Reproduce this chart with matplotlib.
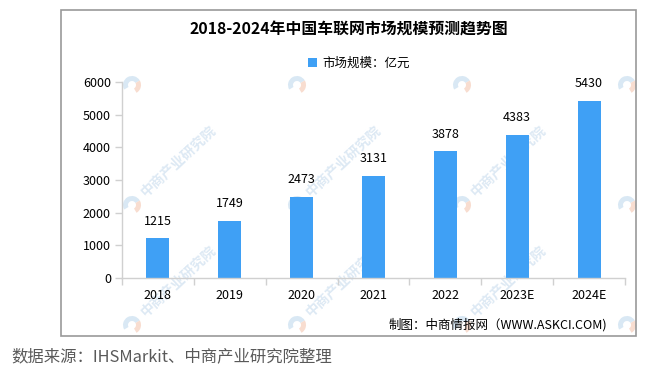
import matplotlib
matplotlib.use('Agg')
import matplotlib.pyplot as plt
from matplotlib.patches import Rectangle, Wedge, Patch
import numpy as np

plt.rcParams['font.family'] = ['Noto Sans CJK SC', 'DejaVu Sans']

# ── 数据 ──
years = ['2018', '2019', '2020', '2021', '2022', '2023E', '2024E']
market_size = [1215, 1749, 2473, 3131, 3878, 4383, 5430]
y_ticks = [0, 1000, 2000, 3000, 4000, 5000, 6000]

title = '2018-2024年中国车联网市场规模预测趋势图'
legend_label = '市场规模：亿元'
credit = '制图：中商情报网（WWW.ASKCI.COM)'
source = '数据来源：IHSMarkit、中商产业研究院整理'
watermark = '中商产业研究院'

W, H = 659, 370
BAR = '#3fa0f5'
GRID = '#d0d0d0'

fig = plt.figure(figsize=(W / 100, H / 100), dpi=100, facecolor='white')
px = lambda x, y: (x / W, 1 - y / H)   # 像素 → figure 坐标

# ── 背景层(像素坐标)：水印 + 外框 ──
bg = fig.add_axes([0, 0, 1, 1], zorder=-1)
bg.set_xlim(0, W); bg.set_ylim(H, 0); bg.axis('off')

wm_cols = [-33, 132, 297, 462, 627]
wm_rows = [85, 205, 325]
for cx in wm_cols:
    for cy in wm_rows:
        bg.add_patch(Wedge((cx, cy), 9, 150, 330, width=5, facecolor='#d9e8f4', edgecolor='none'))
        bg.add_patch(Wedge((cx, cy), 9, 330, 60, width=5, facecolor='#f8ddd0', edgecolor='none'))
        if cx < 0 or cx > 600 or cy < 100:
            continue   # 超出画面的水印文字省略
        bg.text(cx + 11, cy - 11, watermark, rotation=43, rotation_mode='anchor',
                ha='left', va='center', fontsize=10, fontweight='bold', color='#dde9f4')

bg.add_patch(Rectangle((61, 10), 575, 326, fill=False, edgecolor='#999999', linewidth=1.2))

# ── 坐标轴 ──
ax_l, ax_b = px(122, 278)
ax_r, ax_t = px(625, 82)
ax = fig.add_axes([ax_l, ax_b, ax_r - ax_l, ax_t - ax_b])
ax.patch.set_visible(False)

x = np.arange(len(years))
ax.bar(x, market_size, width=0.32, color=BAR, zorder=2)
for xi, v in zip(x, market_size):
    ax.text(xi, v + 330, str(v), ha='center', va='bottom', fontsize=9, color='black')

ax.set_xlim(-0.5, len(years) - 0.5)
ax.set_ylim(0, 6000)
ax.set_yticks(y_ticks)
ax.set_yticklabels([str(t) for t in y_ticks], fontsize=9)
ax.set_xticks(x)
ax.set_xticklabels(years, fontsize=9)
ax.set_xticks(np.arange(len(years) + 1) - 0.5, minor=True)
ax.tick_params(axis='x', which='major', length=0, pad=8)
ax.tick_params(axis='x', which='minor', length=5, color=GRID, width=1)
ax.tick_params(axis='y', length=5, color=GRID, width=1, pad=3)

for s in ['top', 'right']:
    ax.spines[s].set_visible(False)
for s in ['left', 'bottom']:
    ax.spines[s].set_color(GRID)
    ax.spines[s].set_linewidth(1)

# ── 文本 ──
fig.text(*px(349, 30), title, ha='center', va='center', fontsize=11.4, fontweight='bold')
fig.legend(handles=[Patch(facecolor=BAR, edgecolor='none', label=legend_label)],
           loc='center', bbox_to_anchor=px(359, 63), frameon=False, fontsize=9,
           handlelength=0.7, handleheight=0.7, handletextpad=0.4, borderpad=0)
fig.text(*px(607, 325), credit, ha='right', va='center', fontsize=9)
fig.text(*px(11, 357), source, ha='left', va='center', fontsize=11.8, color='#595959')

plt.savefig('out.png', dpi=100, facecolor='white')
plt.close()
